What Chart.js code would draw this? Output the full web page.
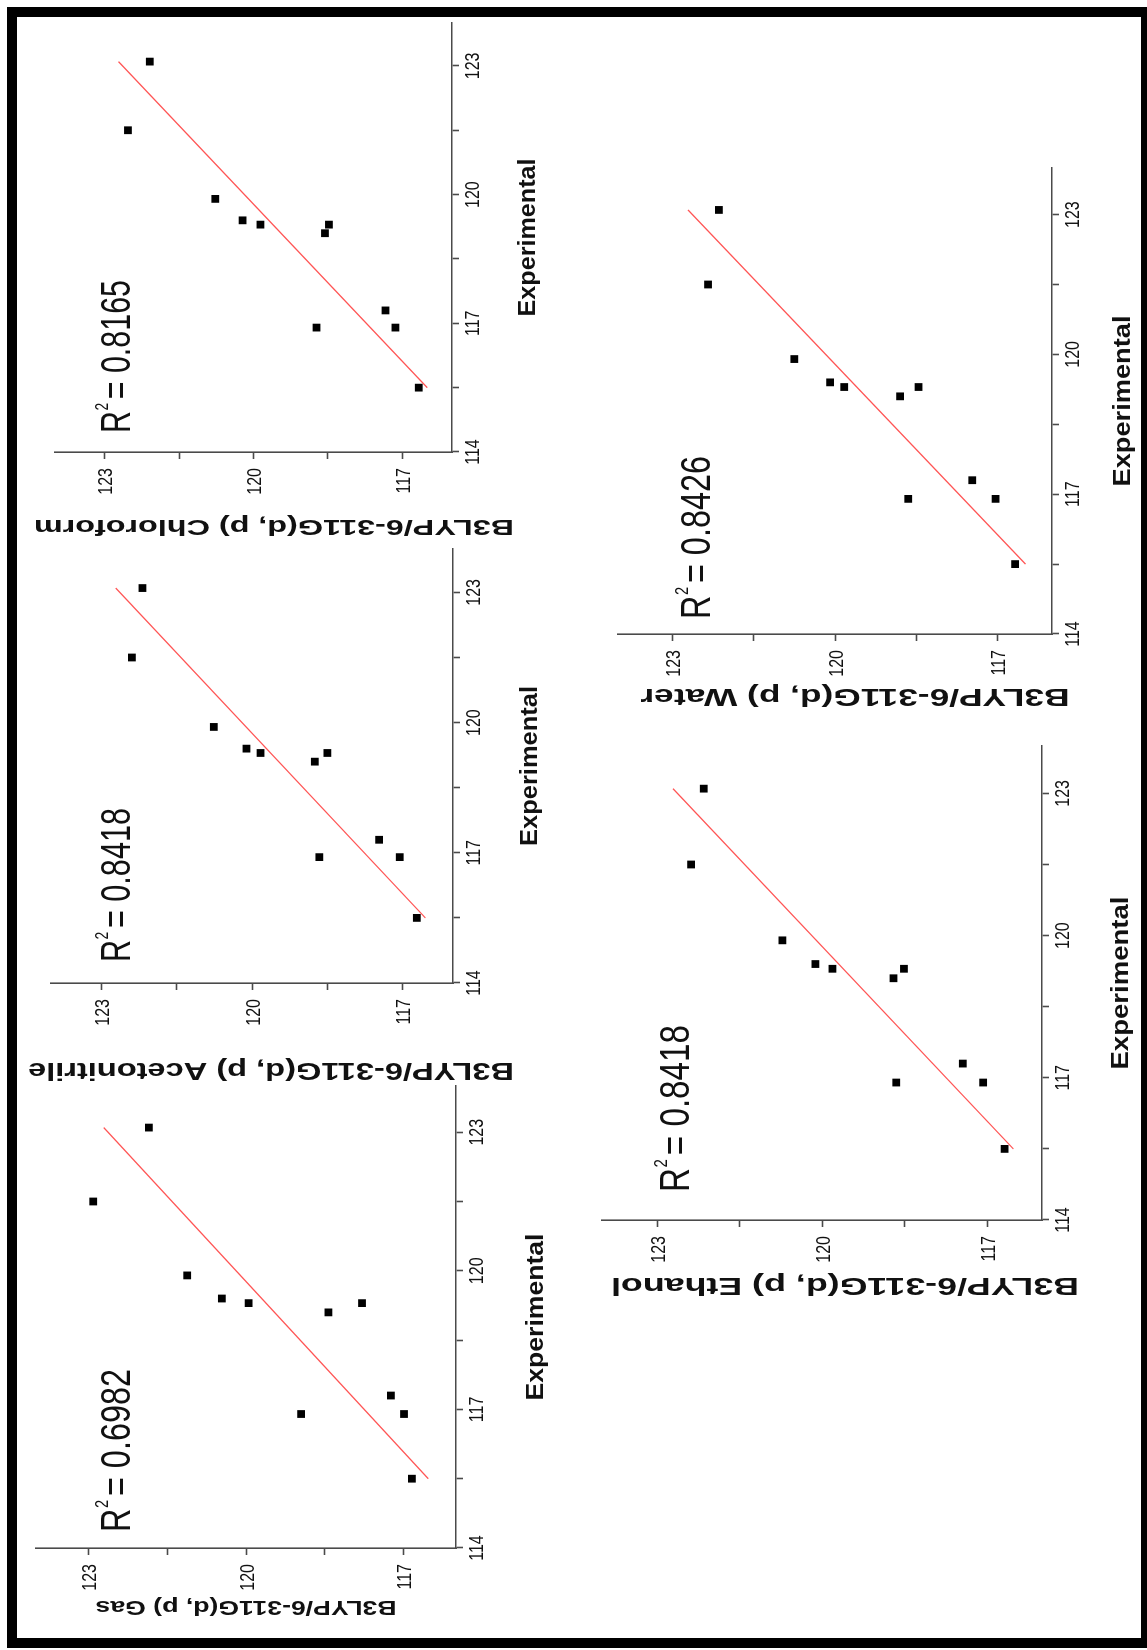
<!DOCTYPE html>
<html>
<head>
<meta charset="utf-8">
<title>B3LYP/6-311G(d, p) vs Experimental</title>
<script src="https://cdn.jsdelivr.net/npm/chart.js@4.4.1/dist/chart.umd.min.js"></script>
<style>
  html, body { margin: 0; padding: 0; background: #fff; overflow: hidden; }
  #page { position: relative; width: 1147px; height: 1650px; }
  /* the figure is drawn landscape, then turned a quarter turn anticlockwise */
  #sheet { position: absolute; left: 0; top: 0; width: 1650px; height: 1147px;
           transform-origin: 0 0; transform: translateY(1650px) rotate(-90deg); background: #fff; }
  #sheet canvas { position: absolute; left: 0; top: 0; }
  #frame { position: absolute; left: 7px; top: 7px; width: 1140px; height: 1641px;
           border: 10px solid #000; border-right-width: 6px; box-sizing: border-box; pointer-events: none; }
</style>
</head>
<body>
<div id="page">
  <div id="sheet"></div>
  <div id="frame"></div>
</div>
<script>
// experimental vs computed values, one point per carbon
const experimental = [115.5, 116.9, 116.9, 117.3, 119.1, 119.3, 119.3, 119.4, 119.9, 121.5, 123.1];
const gas          = [116.84, 116.99, 118.95, 117.24, 118.43, 117.79, 119.95, 120.46, 121.12, 122.91, 121.85];
const acetonitrile = [116.72, 117.06, 118.66, 117.47, 118.75, 118.50, 119.83, 120.11, 120.76, 122.39, 122.18];
const chloroform   = [116.67, 117.14, 118.73, 117.34, 118.56, 118.48, 119.86, 120.22, 120.77, 122.53, 122.09];
const ethanol      = [116.68, 117.07, 118.65, 117.44, 118.70, 118.51, 119.81, 120.12, 120.72, 122.38, 122.15];
const water        = [116.68, 117.04, 118.65, 117.47, 118.80, 118.46, 119.83, 120.09, 120.75, 122.34, 122.14];

// trend line end points
const fitX            = [115.5, 123.1];
const gasFit          = [116.53, 122.71];
const acetonitrileFit = [116.55, 122.71];
const chloroformFit   = [116.50, 122.72];
const ethanolFit      = [116.52, 122.71];
const waterFit        = [116.49, 122.71];

const rSquared = ['0.6982', '0.8418', '0.8165', '0.8418', '0.8426'];
const solvents = ['Gas', 'Acetonitrile', 'Chloroform', 'Ethanol', 'Water'];

const expTicks       = [114, 115.5, 117, 118.5, 120, 121.5, 123];
const calcTicks      = [117, 118.5, 120, 121.5, 123];
const expTickLabels  = [114, 117, 120, 123];
const calcTickLabels = [117, 120, 123];

const seriesList = [gas, acetonitrile, chloroform, ethanol, water];
const fitList = [gasFit, acetonitrileFit, chloroformFit, ethanolFit, waterFit];

// panel geometry on the landscape sheet
const sheetW = 1650, sheetH = 1147;
const layout = [
  { area: [102, 36, 564, 456],     r2At: [118, 130, 163],  yTitle: [43, 246, 301, 20],   xTitle: [81, 167] },
  { area: [667, 51, 1101, 453],    r2At: [688, 130, 154],  yTitle: [581, 271, 486, 23],  xTitle: [78, 160] },
  { area: [1198, 55, 1627, 452],   r2At: [1217, 130, 153], yTitle: [1124, 274, 480, 22], xTitle: [77, 158] },
  { area: [430, 602, 904, 1042],   r2At: [458, 689, 167],  yTitle: [366, 845, 468, 23],  xTitle: [80, 173] },
  { area: [1016, 618, 1482, 1052], r2At: [1031, 710, 163], yTitle: [955, 855, 429, 23],  xTitle: [72, 171] }
];

const FONT = '"Liberation Sans", Arial, Helvetica, sans-serif';
const AXIS = '#4a4a4a';

function drawScaled(ctx, text, x, y, align, sx, rot){
  ctx.save();
  ctx.translate(x, y);
  ctx.rotate(rot);
  ctx.scale(sx, 1);
  ctx.textAlign = align;
  ctx.fillText(text, 0, 0);
  ctx.restore();
}

function fitText(ctx, text, cx, cy, len, rot){
  const w = ctx.measureText(text).width;
  drawScaled(ctx, text, cx, cy, 'center', len / w, rot);
}

function drawR2(ctx, val, x, y, len, size){
  const big = size + 'px ' + FONT, small = Math.round(size * 0.45) + 'px ' + FONT;
  const rest = '= ' + val;
  ctx.font = big;
  const wR = ctx.measureText('R').width, wRest = ctx.measureText(rest).width;
  ctx.font = small;
  const w2 = ctx.measureText('2').width;
  const supX = wR * 1.02, restX = supX + w2 + size * 0.12;
  const sx = len / (restX + wRest);
  ctx.save();
  ctx.translate(x, y);
  ctx.scale(sx, 1);
  ctx.textAlign = 'left';
  ctx.textBaseline = 'alphabetic';
  ctx.font = big;   ctx.fillText('R', 0, 0);
  ctx.font = small; ctx.fillText('2', supX, -size * 0.52);
  ctx.font = big;   ctx.fillText(rest, restX, 0);
  ctx.restore();
}

const panelText = {
  id: 'panelText',
  afterDraw(chart, args, opts){
    const i = opts.index;
    const lay = layout[i];
    const { ctx, chartArea: a, scales: { x, y } } = chart;
    ctx.save();
    ctx.fillStyle = '#111';
    ctx.textBaseline = 'alphabetic';
    ctx.font = '20px ' + FONT;
    expTickLabels.forEach(v => drawScaled(ctx, String(v), x.getPixelForValue(v), a.bottom + 27, 'center', 0.8, 0));
    calcTickLabels.forEach(v => drawScaled(ctx, String(v), a.left - 16, y.getPixelForValue(v) + 7.5, 'right', 0.8, 0));

    ctx.textBaseline = 'middle';
    ctx.font = 'bold 23px ' + FONT;
    fitText(ctx, 'Experimental', (a.left + a.right) / 2, a.bottom + lay.xTitle[0], lay.xTitle[1], 0);
    ctx.font = 'bold ' + lay.yTitle[3] + 'px ' + FONT;
    fitText(ctx, 'B3LYP/6-311G(d, p) ' + solvents[i], lay.yTitle[0], lay.yTitle[1], lay.yTitle[2], -Math.PI / 2);

    drawR2(ctx, rSquared[i], lay.r2At[0], lay.r2At[1], lay.r2At[2], 42);
    ctx.restore();
  }
};

function axis(min, max, values){
  return {
    type: 'linear', min, max,
    afterBuildTicks: s => { s.ticks = values.map(v => ({ value: v })); },
    afterFit: s => { if (s.isHorizontal()) s.height = 0; else s.width = 0; },
    ticks: { display: false },
    grid: { display: true, drawOnChartArea: false, drawTicks: true, tickLength: 7, tickWidth: 1.6, tickColor: AXIS, color: AXIS },
    border: { display: true, color: AXIS, width: 1.6 }
  };
}

const sheet = document.getElementById('sheet');
solvents.forEach((name, i) => {
  const cv = document.createElement('canvas');
  cv.width = sheetW; cv.height = sheetH;
  sheet.appendChild(cv);
  const [l, t, r, b] = layout[i].area;
  new Chart(cv, {
    type: 'scatter',
    data: {
      datasets: [
        {
          data: experimental.map((x, k) => ({ x, y: seriesList[i][k] })),
          pointStyle: 'rect', pointRadius: 5.5, backgroundColor: '#000', borderWidth: 0,
          clip: false, order: 1
        },
        {
          data: fitX.map((x, k) => ({ x, y: fitList[i][k] })),
          showLine: true, borderColor: '#ff5555', borderWidth: 1.3, pointRadius: 0,
          clip: false, order: 2
        }
      ]
    },
    options: {
      responsive: false,
      animation: false,
      devicePixelRatio: 1,
      events: [],
      layout: { padding: { left: l, top: t, right: sheetW - r, bottom: sheetH - b } },
      plugins: { legend: { display: false }, tooltip: { enabled: false }, panelText: { index: i } },
      scales: { x: axis(114, 124, expTicks), y: axis(116, 124, calcTicks) }
    },
    plugins: [panelText]
  });
});
</script>
</body>
</html>
